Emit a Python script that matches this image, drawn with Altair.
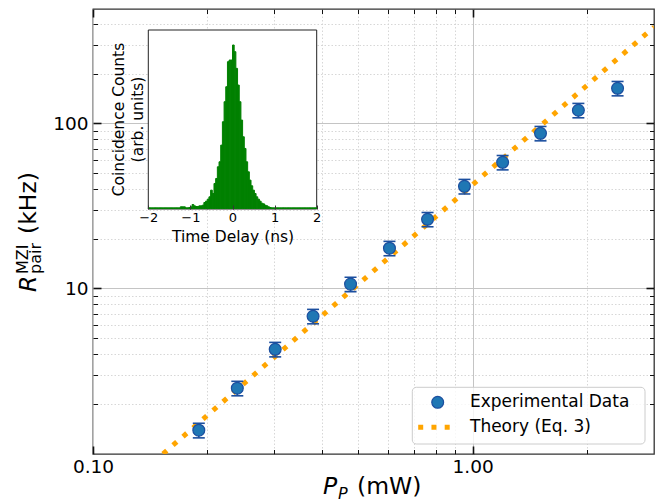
import altair as alt
import pandas as pd

# ---------------- data ----------------
pump_mw = [0.190, 0.240, 0.302, 0.380, 0.477, 0.604, 0.761, 0.952, 1.20, 1.51, 1.90, 2.41]
rate_khz = [1.38, 2.48, 4.27, 6.77, 10.6, 17.5, 26.2, 41.5, 58.0, 87.0, 120.0, 163.0]
rate_err = [0.14, 0.25, 0.43, 0.68, 1.06, 1.75, 2.6, 4.2, 5.8, 8.7, 12.0, 16.3]

theory_p = [0.10, 3.006]
theory_r = [0.424, 383.1]

x_ticks = [0.1, 0.2, 0.3, 0.4, 0.5, 0.6, 0.7, 0.8, 0.9, 1, 2]
y_ticks = [2, 3, 4, 5, 6, 7, 8, 9, 10, 20, 30, 40, 50, 60, 70, 80, 90, 100, 200, 300, 400]

# inset histogram (bins of 0.04 ns from -2 to 2)
bin_left = [round(-2.0 + 0.04 * i, 2) for i in range(100)]
counts = ([2] * 13 +
          [2, 2, 2, 2, 2, 2, 5, 5, 5, 2, 2, 3, 5, 12, 8, 6, 6, 8, 8, 10,
           18, 22, 28, 35, 55, 45, 75, 90, 125, 140, 190, 260, 320, 365, 440, 445, 445, 490,
           470, 420, 370, 320, 265, 215, 180, 140, 110, 85, 68, 55, 45, 35, 28, 22, 16, 14,
           10, 8, 5, 3] +
          [2] * 27)
inset_ticks = [-2, -1, 0, 1, 2]

# ---------------- layout ----------------
W, H = 561, 445
OX, OY = 93, 9          # page position of plot origin
EB = "#1c4f9f"
BLUE = "#1f77b4"
ORANGE = "#ffa500"
FONT = "DejaVu Sans"

main_df = pd.DataFrame({"p": pump_mw, "r": rate_khz, "e": rate_err})
main_df["lo"] = main_df["r"] - main_df["e"]
main_df["hi"] = main_df["r"] + main_df["e"]
theory_df = pd.DataFrame({"p": theory_p, "r": theory_r})
hist_df = pd.DataFrame({"t0": bin_left, "c": counts})
hist_df["t1"] = hist_df["t0"] + 0.04
hist_df["z"] = 0
one = pd.DataFrame({"a": [0]})

xs = alt.Scale(type="log", domain=[0.1, 3.006], nice=False)
ys = alt.Scale(type="log", domain=[0.99, 493], nice=False)

IX0, IX1 = 148.3 - OX, 316.7 - OX
IY0, IY1 = 30 - OY, 209 - OY
ixs = alt.Scale(domain=[-2, 2], range=[IX0, IX1], nice=False, zero=False)
iys = alt.Scale(domain=[0, 535], range=[IY1 - 0.5, IY0], nice=False, zero=False)

MAJ_X = "datum.value == 0.1 || datum.value == 1"
MAJ_Y = "datum.value == 10 || datum.value == 100"


def cond(test, a, b):
    return {"condition": {"test": test, "value": a}, "value": b}


ax_x_lab = alt.Axis(orient="bottom", values=x_ticks,
                    labelExpr="datum.value == 0.1 ? '0.10' : (datum.value == 1 ? '1.00' : '')",
                    ticks=False, tickSize=0, domain=False, grid=True,
                    gridColor=cond(MAJ_X, "#c4c4c4", "#d2d2d2"),
                    gridDash=cond(MAJ_X, [], [1.5, 2]),
                    gridWidth=cond(MAJ_X, 1.0, 0.9),
                    labelFont=FONT, labelFontSize=18.5, labelColor="black",
                    labelPadding=3, labelFlush=False, labelOverlap=False, title=None)
ax_y_lab = alt.Axis(orient="left", values=y_ticks,
                    labelExpr="datum.value == 10 ? '10' : (datum.value == 100 ? '100' : '')",
                    ticks=False, tickSize=0, domain=False, grid=True,
                    gridColor=cond(MAJ_Y, "#c4c4c4", "#d2d2d2"),
                    gridDash=cond(MAJ_Y, [], [1.5, 2]),
                    gridWidth=cond(MAJ_Y, 1.0, 0.9),
                    labelFont=FONT, labelFontSize=18.5, labelColor="black",
                    labelPadding=5, labelFlush=False, labelOverlap=False, title=None)


def tick_axis(orient, offset, values, major):
    return alt.Axis(orient=orient, offset=offset, values=values, labels=False,
                    domain=False, grid=False, ticks=True,
                    tickSize=cond(major, 8, 4.5), tickWidth=cond(major, 1.6, 1.0),
                    tickColor="#111111", title=None)


def dummy(xaxis, yaxis):
    return alt.Chart(main_df).mark_point(opacity=0).encode(
        x=alt.X("p:Q", scale=xs, axis=xaxis),
        y=alt.Y("r:Q", scale=ys, axis=yaxis))


grid_layer = dummy(ax_x_lab, ax_y_lab)
ticks_a = dummy(tick_axis("top", -H, x_ticks, MAJ_X), tick_axis("right", -W, y_ticks, MAJ_Y))
ticks_b = dummy(tick_axis("bottom", -H, x_ticks, MAJ_X), tick_axis("left", -W, y_ticks, MAJ_Y))

# ---------------- inset ----------------
inset_frame = alt.Chart(one).mark_rect(fill="white", stroke="#222222", strokeWidth=1).encode(
    x=alt.value(IX0), x2=alt.value(IX1), y=alt.value(IY0), y2=alt.value(IY1))

inset_lab_axis = alt.Axis(orient="bottom", offset=-(H - IY1), values=inset_ticks,
                          labelExpr="datum.value < 0 ? '\u2212' + abs(datum.value) : '' + datum.value",
                          ticks=False, tickSize=0, domain=False, grid=False,
                          labelFont=FONT, labelFontSize=13, labelColor="black",
                          labelPadding=2, labelFlush=False, title=None, zindex=1)
inset_bars = alt.Chart(hist_df).mark_rect(color="#008000", stroke="#008000", strokeWidth=1.0).encode(
    x=alt.X("t0:Q", scale=ixs, axis=inset_lab_axis),
    x2="t1:Q",
    y=alt.Y("c:Q", scale=iys, axis=None),
    y2="z:Q")

inset_tick_axis = alt.Axis(orient="top", offset=-IY1, values=inset_ticks, labels=False,
                           domain=False, grid=False, tickSize=4, tickWidth=1,
                           tickColor="#333333", title=None, zindex=1)
inset_ticks_layer = alt.Chart(hist_df).mark_point(opacity=0).encode(
    x=alt.X("t0:Q", scale=ixs, axis=inset_tick_axis))

# ---------------- main marks ----------------
theory = alt.Chart(theory_df).mark_line(color=ORANGE, strokeWidth=5, strokeDash=[5, 8.25],
                                        strokeCap="butt", clip=True).encode(
    x=alt.X("p:Q", scale=xs, axis=None), y=alt.Y("r:Q", scale=ys, axis=None))

err = alt.Chart(main_df).mark_rule(color=EB, strokeWidth=1.6).encode(
    x=alt.X("p:Q", scale=xs, axis=None), y=alt.Y("lo:Q", scale=ys, axis=None), y2="hi:Q")
cap_lo = alt.Chart(main_df).mark_tick(orient="horizontal", size=12, thickness=1.6, color=EB, opacity=1).encode(
    x=alt.X("p:Q", scale=xs, axis=None), y=alt.Y("lo:Q", scale=ys, axis=None))
cap_hi = alt.Chart(main_df).mark_tick(orient="horizontal", size=12, thickness=1.6, color=EB, opacity=1).encode(
    x=alt.X("p:Q", scale=xs, axis=None), y=alt.Y("hi:Q", scale=ys, axis=None))
pts = alt.Chart(main_df).mark_circle(size=140, fill=BLUE, stroke=EB, strokeWidth=1.2, opacity=1).encode(
    x=alt.X("p:Q", scale=xs, axis=None), y=alt.Y("r:Q", scale=ys, axis=None))


# ---------------- legend & texts ----------------
def txt(s, px, py, size, italic=False, angle=0, align="left", baseline="alphabetic"):
    kw = dict(font=FONT, fontSize=size, align=align, baseline=baseline, color="black")
    if italic:
        kw["fontStyle"] = "italic"
    if angle:
        kw["angle"] = angle
    return alt.Chart(one).mark_text(**kw).encode(
        x=alt.value(px - OX), y=alt.value(py - OY), text=alt.value(s))


leg_box = alt.Chart(one).mark_rect(fill="white", fillOpacity=0.8, stroke="#cccccc",
                                   strokeWidth=1, cornerRadius=4).encode(
    x=alt.value(412.3 - OX), x2=alt.value(645 - OX), y=alt.value(387.3 - OY), y2=alt.value(444 - OY))
leg_pt = alt.Chart(one).mark_circle(size=140, fill=BLUE, stroke=EB, strokeWidth=1.2, opacity=1).encode(
    x=alt.value(437.7 - OX), y=alt.value(402.3 - OY))
leg_line = alt.Chart(one).mark_rule(color=ORANGE, strokeWidth=5, strokeDash=[5, 8.25], strokeCap="butt").encode(
    x=alt.value(418.2 - OX), x2=alt.value(452 - OX), y=alt.value(427.3 - OY))

texts = [
    txt("Experimental Data", 470, 402.3, 17, baseline="middle"),
    txt("Theory (Eq. 3)", 470, 427.3, 17, baseline="middle"),
    # x title
    txt("P", 323, 494, 23.5, italic=True),
    txt("P", 338, 499, 16, italic=True),
    txt("(mW)", 357, 494, 23.5),
    # y title (rotated)
    txt("R", 36, 292, 23.5, italic=True, angle=270),
    txt("MZI", 28, 274, 16, angle=270),
    txt("pair", 41, 274, 16, angle=270),
    txt("(kHz)", 36, 234, 23.5, angle=270),
    # inset titles
    txt("Time Delay (ns)", 233, 236.7, 15.5, align="center", baseline="middle"),
    txt("Coincidence Counts", 118.8, 119.5, 15.5, angle=270, align="center", baseline="middle"),
    txt("(arb. units)", 137.5, 119.5, 15.5, angle=270, align="center", baseline="middle"),
]

chart = alt.layer(
    grid_layer, ticks_a, ticks_b,
    inset_frame, inset_bars, inset_ticks_layer,
    theory, err, cap_lo, cap_hi, pts,
    leg_box, leg_pt, leg_line, *texts
).resolve_scale(x="independent", y="independent").resolve_axis(
    x="independent", y="independent"
).properties(
    width=W, height=H, autosize="none",
    padding={"left": 85, "top": 1, "right": 2, "bottom": 48},
    background="white"
).configure_view(stroke="#333333", strokeWidth=1.3)

chart.save("out.html", embed_options={"renderer": "svg", "actions": False})
